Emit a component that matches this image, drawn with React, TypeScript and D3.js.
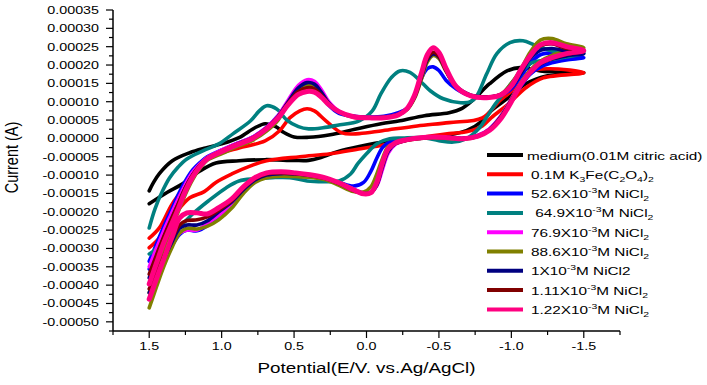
import React from 'react';
import * as d3 from 'd3';

const W = 707;
const H = 385;

// potential grid (V) shared by the NiCl2 scans, forward (1.5 -> -1.5) and reverse
const fwdE = [1.5, 1.45, 1.4, 1.35, 1.3, 1.25, 1.2, 1.15, 1.1, 0.99, 0.89, 0.79, 0.69, 0.61, 0.54, 0.47, 0.41, 0.36, 0.31, 0.26, 0.19, 0.09, -0.02, -0.12, -0.22, -0.28, -0.33, -0.38, -0.42, -0.46, -0.5, -0.55, -0.62, -0.72, -0.83, -0.93, -1.0, -1.07, -1.13, -1.2, -1.28, -1.38, -1.5];
const revE = [-1.5, -1.38, -1.28, -1.2, -1.13, -1.07, -1.0, -0.93, -0.85, -0.77, -0.67, -0.57, -0.47, -0.37, -0.27, -0.2, -0.15, -0.11, -0.07, -0.03, 0.02, 0.09, 0.19, 0.29, 0.39, 0.49, 0.59, 0.69, 0.77, 0.85, 0.93, 1.02, 1.1, 1.17, 1.24, 1.29, 1.34, 1.4, 1.45, 1.5];

// currents in µA
const blueFwd = [-335, -288, -241, -198, -154, -116, -86, -66, -50, -30, -13, 3, 30, 62, 100, 135, 145, 140, 118, 90, 68, 60, 58, 60, 70, 82, 115, 165, 190, 195, 185, 158, 135, 116, 112, 118, 135, 170, 205, 228, 233, 226, 220];
const blueRev = [220, 214, 206, 194, 175, 145, 105, 62, 26, 8, 0, 2, 3, 1, -4, -8, -12, -25, -55, -90, -120, -130, -120, -110, -105, -102, -102, -105, -118, -145, -180, -210, -238, -252, -250, -262, -290, -318, -338, -356];

const magentaFwd = [-350, -300, -252, -208, -165, -125, -92, -70, -52, -30, -13, 3, 30, 62, 105, 145, 160, 156, 132, 100, 74, 60, 57, 58, 66, 80, 110, 165, 212, 228, 220, 183, 140, 116, 112, 120, 145, 186, 228, 255, 258, 248, 240];
const magentaRev = [240, 232, 222, 208, 185, 155, 108, 62, 26, 8, 0, 2, 3, 0, -6, -16, -40, -85, -130, -146, -148, -138, -121, -110, -104, -100, -100, -104, -118, -145, -180, -210, -232, -250, -250, -258, -285, -322, -360, -397];

const oliveFwd = [-420, -360, -300, -250, -200, -152, -112, -82, -60, -40, -22, -6, 20, 50, 96, 133, 147, 144, 122, 95, 72, 58, 55, 56, 64, 78, 108, 162, 208, 226, 218, 182, 140, 116, 111, 121, 150, 192, 235, 268, 272, 258, 247];
const oliveRev = [247, 238, 226, 210, 186, 155, 106, 60, 24, 6, -2, 0, 2, 0, -6, -14, -22, -55, -98, -132, -146, -145, -128, -112, -106, -104, -103, -107, -120, -150, -190, -222, -240, -247, -245, -258, -295, -350, -405, -462];

const navyFwd = [-380, -325, -272, -225, -180, -135, -100, -74, -55, -33, -15, 1, 28, 60, 100, 138, 152, 148, 125, 96, 72, 60, 57, 58, 66, 80, 112, 168, 214, 230, 222, 185, 142, 118, 113, 120, 140, 180, 218, 240, 245, 238, 231];
const navyRev = [231, 225, 216, 202, 180, 150, 104, 60, 24, 7, 0, 2, 3, 1, -5, -14, -35, -78, -128, -148, -150, -140, -122, -108, -101, -97, -96, -100, -113, -140, -173, -200, -225, -236, -236, -245, -280, -330, -378, -421];

const maroonFwd = [-370, -318, -268, -222, -178, -134, -99, -73, -54, -33, -16, 0, 27, 58, 96, 128, 138, 135, 117, 93, 72, 59, 56, 57, 65, 80, 112, 170, 218, 235, 224, 185, 140, 117, 112, 120, 145, 186, 226, 252, 258, 245, 237];
const maroonRev = [237, 229, 218, 204, 181, 150, 102, 58, 23, 6, -1, 2, 3, 1, -5, -13, -30, -72, -125, -148, -151, -142, -123, -109, -101, -96, -94, -97, -110, -136, -170, -196, -214, -222, -224, -236, -272, -322, -370, -410];

const pinkFwd = [-397, -340, -285, -238, -192, -143, -105, -77, -56, -34, -17, -1, 26, 56, 92, 120, 128, 126, 112, 92, 73, 59, 56, 56, 64, 81, 116, 179, 228, 247, 234, 190, 141, 116, 111, 119, 143, 190, 225, 255, 261, 250, 239];
const pinkRev = [239, 231, 220, 206, 180, 150, 100, 55, 22, 6, -1, 2, 4, 2, -4, -12, -28, -67, -121, -148, -151, -140, -121, -107, -99, -94, -91, -94, -107, -132, -165, -189, -206, -203, -203, -217, -266, -329, -383, -438];

// [E (V), I (µA)]
const mediumFwd: [number, number][] = [[1.5, -143], [1.47, -120], [1.43, -96], [1.34, -61], [1.22, -39], [1.11, -26], [1.0, -15], [0.88, 2], [0.77, 29], [0.7, 40], [0.63, 33], [0.57, 16], [0.5, 4], [0.4, 3], [0.25, 10], [0.08, 25], [-0.1, 40], [-0.23, 48], [-0.4, 62], [-0.57, 70], [-0.66, 82], [-0.73, 103], [-0.85, 149], [-0.97, 184], [-1.06, 193], [-1.2, 184], [-1.35, 180], [-1.5, 179]];
const mediumRev: [number, number][] = [[-1.5, 179], [-1.25, 171], [-1.1, 149], [-0.98, 111], [-0.86, 75], [-0.8, 48], [-0.69, 21], [-0.57, 10], [-0.37, 0], [-0.15, -8], [0.05, -22], [0.2, -36], [0.32, -53], [0.4, -60], [0.5, -60], [0.7, -58], [0.88, -61], [1.04, -67], [1.15, -89], [1.27, -124], [1.38, -148], [1.5, -178]];

const ferFwd: [number, number][] = [[1.5, -272], [1.43, -244], [1.34, -178], [1.22, -116], [1.11, -56], [1.0, -39], [0.88, -26], [0.7, -7], [0.6, 21], [0.53, 56], [0.46, 75], [0.41, 81], [0.36, 75], [0.28, 48], [0.17, 15], [0.05, 13], [-0.11, 21], [-0.35, 34], [-0.57, 43], [-0.8, 56], [-0.92, 103], [-1.03, 138], [-1.15, 184], [-1.26, 190], [-1.5, 179]];
const ferRev: [number, number][] = [[-1.5, 179], [-1.22, 165], [-1.1, 138], [-0.98, 94], [-0.86, 56], [-0.8, 34], [-0.69, 18], [-0.57, 13], [-0.37, 2], [-0.16, -15], [0.04, -28], [0.25, -42], [0.46, -50], [0.69, -61], [0.8, -75], [0.93, -97], [1.04, -120], [1.12, -145], [1.22, -162], [1.29, -190], [1.36, -225], [1.43, -271], [1.5, -298]];

const tealFwd: [number, number][] = [[1.5, -244], [1.46, -192], [1.41, -145], [1.36, -108], [1.3, -78], [1.24, -56], [1.13, -34], [1.02, -15], [0.92, 13], [0.8, 48], [0.74, 75], [0.69, 89], [0.62, 80], [0.55, 50], [0.47, 32], [0.4, 26], [0.3, 29], [0.2, 36], [0.05, 48], [-0.04, 75], [-0.1, 122], [-0.17, 165], [-0.23, 184], [-0.3, 180], [-0.39, 149], [-0.44, 130], [-0.53, 108], [-0.65, 97], [-0.72, 100], [-0.76, 115], [-0.83, 176], [-0.9, 231], [-0.99, 261], [-1.08, 266], [-1.17, 253], [-1.33, 234], [-1.5, 232]];
const tealRev: [number, number][] = [[-1.5, 232], [-1.38, 222], [-1.25, 214], [-1.14, 206], [-1.03, 165], [-0.96, 130], [-0.89, 94], [-0.83, 58], [-0.78, 29], [-0.69, -1], [-0.6, -10], [-0.5, -6], [-0.39, 2], [-0.25, 1], [-0.16, -1], [-0.07, -15], [0.0, -42], [0.06, -69], [0.11, -97], [0.19, -116], [0.3, -118], [0.41, -116], [0.53, -107], [0.65, -107], [0.77, -110], [0.88, -116], [0.97, -135], [1.09, -170], [1.2, -206], [1.27, -233], [1.38, -271], [1.47, -307], [1.5, -315]];

const xMajor = [1.5, 1.0, 0.5, 0.0, -0.5, -1.0, -1.5];
const xMinor = [1.75, 1.25, 0.75, 0.25, -0.25, -0.75, -1.25, -1.75];
const yMajor = d3.range(-10, 8).map(i => i * 0.00005);
const yMinor = d3.range(-21, 14, 2).map(i => i * 0.000025);

type Part = string | [string, 'sub' | 'sup'];

const zip = (e: number[], v: number[]) => e.map((d, i) => [d, v[i]] as [number, number]);
const loop = (f: [number, number][], r: [number, number][]) => [...f, ...r.slice(1)];

const series: { label: Part[]; color: string; width: number; pts: [number, number][] }[] = [
  { label: ['medium(0.01M citric acid)'], color: '#000000', width: 3.6, pts: loop(mediumFwd, mediumRev) },
  { label: ['0.1M K', ['3', 'sub'], 'Fe(C', ['2', 'sub'], 'O', ['4', 'sub'], ')', ['2', 'sub']], color: '#ff0000', width: 3.6, pts: loop(ferFwd, ferRev) },
  { label: ['52.6X10', ['-3', 'sup'], 'M NiCl', ['2', 'sub']], color: '#0000ff', width: 3.6, pts: loop(zip(fwdE, blueFwd), zip(revE, blueRev)) },
  { label: [' 64.9X10', ['-3', 'sup'], 'M NiCl', ['2', 'sub']], color: '#008080', width: 3.6, pts: loop(tealFwd, tealRev) },
  { label: ['76.9X10', ['-3', 'sup'], 'M NiCl', ['2', 'sub']], color: '#ff00ff', width: 3.6, pts: loop(zip(fwdE, magentaFwd), zip(revE, magentaRev)) },
  { label: ['88.6X10', ['-3', 'sup'], 'M NiCl', ['2', 'sub']], color: '#808000', width: 3.6, pts: loop(zip(fwdE, oliveFwd), zip(revE, oliveRev)) },
  { label: ['1X10', ['-3', 'sup'], 'M NiCl2'], color: '#000080', width: 3.6, pts: loop(zip(fwdE, navyFwd), zip(revE, navyRev)) },
  { label: ['1.11X10', ['-3', 'sup'], 'M NiCl', ['2', 'sub']], color: '#800000', width: 3.6, pts: loop(zip(fwdE, maroonFwd), zip(revE, maroonRev)) },
  { label: ['1.22X10', ['-3', 'sup'], 'M NiCl', ['2', 'sub']], color: '#ff0080', width: 5, pts: loop(zip(fwdE, pinkFwd), zip(revE, pinkRev)) },
];

const renderLabel = (parts: Part[]) => {
  let shift = 0;
  return parts.map((p, i) => {
    const [txt, kind] = typeof p === 'string' ? [p, ''] : p;
    const target = kind === 'sub' ? 3 : kind === 'sup' ? -5 : 0;
    const dy = target - shift;
    shift = target;
    return (
      <tspan key={i} dy={dy} fontSize={kind ? 8 : undefined}>{txt}</tspan>
    );
  });
};

export default function App() {
  const x = d3.scaleLinear().domain([1.75, -1.75]).range([113, 620]);
  const y = d3.scaleLinear().domain([-0.000525, 0.00035]).range([331, 10]);
  const line = d3.line<[number, number]>()
    .x(d => x(d[0]))
    .y(d => y(d[1] * 1e-6))
    .curve(d3.curveCatmullRom.alpha(0.5));

  const font = 'Arial, "Liberation Sans", sans-serif';
  const sx = 1.3;

  return (
    <svg width={W} height={H} style={{ position: 'absolute', left: 0, top: 0, background: '#fff' }} fontFamily={font}>
      <rect width={W} height={H} fill="#fff" />

      {series.map((s, i) => (
        <path key={i} d={line(s.pts) || ''} fill="none" stroke={s.color} strokeWidth={s.width}
          strokeLinejoin="round" strokeLinecap="round" />
      ))}

      {/* axes */}
      <line x1={113} x2={113} y1={y.range()[1]} y2={y.range()[0]} stroke="#000" strokeWidth={1.5} />
      <line x1={113} x2={620} y1={331} y2={331} stroke="#000" strokeWidth={1.5} />
      {yMajor.map((v, i) => (
        <g key={'ym' + i}>
          <line x1={106} x2={113} y1={y(v)} y2={y(v)} stroke="#000" strokeWidth={1.2} />
          <text transform={`translate(99,${y(v)}) scale(${sx},1)`} textAnchor="end" dy="0.35em" fontSize={11} fill="#000">
            {v.toFixed(5)}
          </text>
        </g>
      ))}
      {yMinor.map((v, i) => (
        <line key={'yn' + i} x1={109} x2={113} y1={y(v)} y2={y(v)} stroke="#000" strokeWidth={1.2} />
      ))}
      {xMajor.map((v, i) => (
        <g key={'xm' + i}>
          <line x1={x(v)} x2={x(v)} y1={331} y2={338} stroke="#000" strokeWidth={1.2} />
          <text transform={`translate(${x(v)},350) scale(${sx},1)`} textAnchor="middle" fontSize={11} fill="#000">
            {v.toFixed(1)}
          </text>
        </g>
      ))}
      {xMinor.map((v, i) => (
        <line key={'xn' + i} x1={x(v)} x2={x(v)} y1={331} y2={335} stroke="#000" strokeWidth={1.2} />
      ))}

      <text transform={`translate(366.5,373) scale(${sx},1)`} textAnchor="middle" fontSize={14.5} fill="#000">
        Potential(E/V. vs.Ag/AgCl)
      </text>
      <text transform={`translate(18,157.5) scale(${sx},1) rotate(-90)`} textAnchor="middle" fontSize={14.5} fill="#000">
        Current (A)
      </text>

      {/* legend */}
      {series.map((s, i) => {
        const ly = 155 + i * 19.3;
        return (
          <g key={'lg' + i}>
            <line x1={487} x2={523} y1={ly} y2={ly} stroke={s.color} strokeWidth={4} />
            <text transform={`translate(${i === 0 ? 527 : 531},${ly + 4.5}) scale(${sx},1)`} fontSize={11.8}
              fill="#000" style={{ whiteSpace: 'pre' }}>
              {renderLabel(s.label)}
            </text>
          </g>
        );
      })}
    </svg>
  );
}
